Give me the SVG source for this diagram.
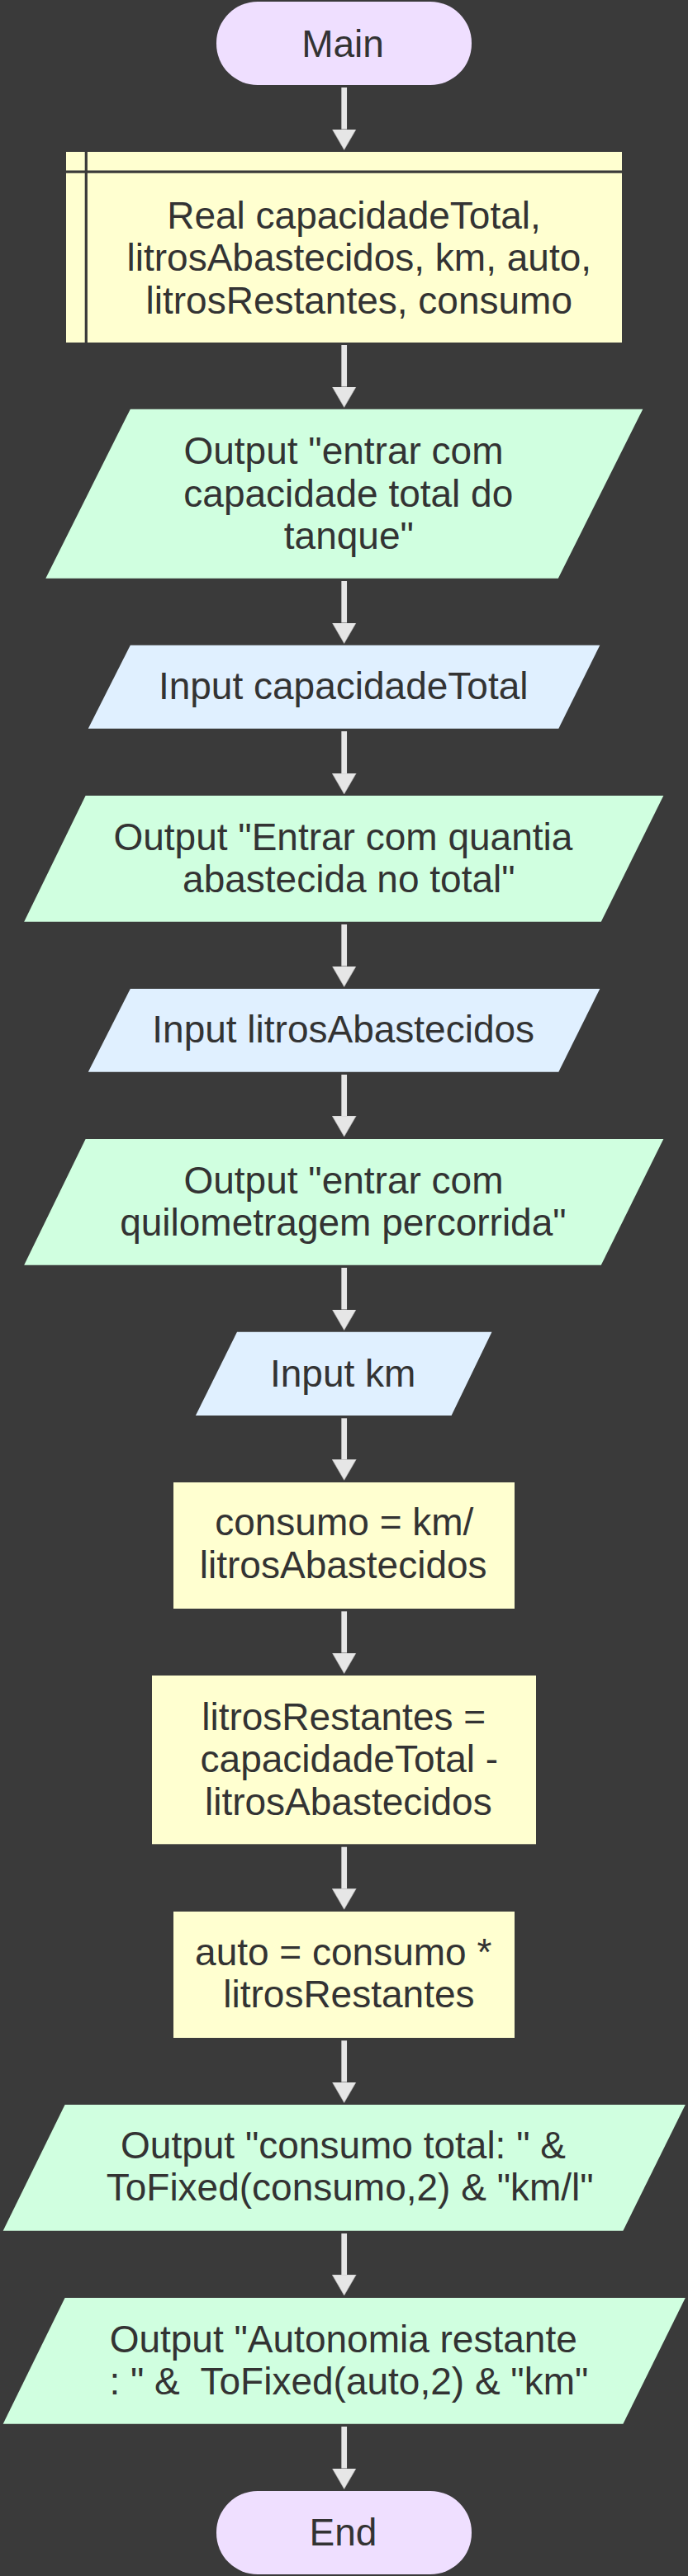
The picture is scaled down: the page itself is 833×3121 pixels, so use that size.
<svg xmlns="http://www.w3.org/2000/svg" width="833" height="3121" viewBox="0 0 833 3121">
<style>
.term{fill:#efdfff}
.proc{fill:#ffffd0}
.out{fill:#d0ffe0}
.in{fill:#e0f0ff}
.sep{stroke:#3a3a3a;stroke-width:3.2;fill:none}
.edge{stroke:#e6e6e6;stroke-width:6.7;fill:none}
text{font-family:"Liberation Sans",Arial,sans-serif;font-size:46px;fill:#333;text-anchor:middle}
</style>
<defs>
<marker id="ah" markerUnits="userSpaceOnUse" markerWidth="26" markerHeight="30" viewBox="0 0 26 30" refX="0" refY="15" orient="auto">
<path d="M0,0.5 L25,15 L0,29.5 z" fill="#e6e6e6" stroke="#bdbdbd" stroke-width="0.6"/>
</marker>
</defs>
<rect width="833" height="3121" fill="#3a3a3a"/>
<g id="connectors">
<line class="edge" x1="416.7" y1="106" x2="416.7" y2="156.5" marker-end="url(#ah)"/>
<line class="edge" x1="416.7" y1="418" x2="416.7" y2="468.5" marker-end="url(#ah)"/>
<line class="edge" x1="416.7" y1="704" x2="416.7" y2="754.5" marker-end="url(#ah)"/>
<line class="edge" x1="416.7" y1="886" x2="416.7" y2="937" marker-end="url(#ah)"/>
<line class="edge" x1="416.7" y1="1120" x2="416.7" y2="1170.5" marker-end="url(#ah)"/>
<line class="edge" x1="416.7" y1="1302" x2="416.7" y2="1352" marker-end="url(#ah)"/>
<line class="edge" x1="416.7" y1="1536" x2="416.7" y2="1586.5" marker-end="url(#ah)"/>
<line class="edge" x1="416.7" y1="1718.3" x2="416.7" y2="1768.3" marker-end="url(#ah)"/>
<line class="edge" x1="416.7" y1="1952.3" x2="416.7" y2="2002.5" marker-end="url(#ah)"/>
<line class="edge" x1="416.7" y1="2237.7" x2="416.7" y2="2288.3" marker-end="url(#ah)"/>
<line class="edge" x1="416.7" y1="2472.3" x2="416.7" y2="2522.5" marker-end="url(#ah)"/>
<line class="edge" x1="416.7" y1="2706" x2="416.7" y2="2756" marker-end="url(#ah)"/>
<line class="edge" x1="416.7" y1="2940" x2="416.7" y2="2990.5" marker-end="url(#ah)"/>
</g>
<g id="main">
<rect class="term" x="262" y="2" width="309" height="101" rx="50" ry="50"/>
<text x="415" y="68.5">Main</text>
</g>
<g id="declare">
<rect class="proc" x="80" y="184" width="673" height="231"/>
<line class="sep" x1="80" y1="208.2" x2="753" y2="208.2"/>
<line class="sep" x1="104.3" y1="184" x2="104.3" y2="415"/>
<text x="428.5" y="276.5">Real capacidadeTotal,</text>
<text x="434.8" y="328">litrosAbastecidos, km, auto,</text>
<text x="434.8" y="379.5">litrosRestantes, consumo</text>
</g>
<g id="output1">
<polygon class="out" points="157.8,495.7 778.3,495.7 675.8,700.7 55.3,700.7"/>
<text x="416" y="562">Output "entrar com</text>
<text x="421.8" y="613.5">capacidade total do</text>
<text x="422.3" y="665">tanque"</text>
</g>
<g id="input1">
<polygon class="in" points="157.8,781.7 726.3,781.7 676.3,882.7 106.8,882.7"/>
<text x="415.7" y="847">Input capacidadeTotal</text>
</g>
<g id="output2">
<polygon class="out" points="103.6,964 803.3,964 727.8,1116.7 29.2,1116.7"/>
<text x="415.4" y="1029.5">Output "Entrar com quantia</text>
<text x="422.3" y="1081">abastecida no total"</text>
</g>
<g id="input2">
<polygon class="in" points="157.8,1198 726.3,1198 676.3,1298.7 106.8,1298.7"/>
<text x="415.7" y="1263">Input litrosAbastecidos</text>
</g>
<g id="output3">
<polygon class="out" points="103.6,1380 803.3,1380 727.8,1532.7 29.2,1532.7"/>
<text x="416" y="1445.5">Output "entrar com</text>
<text x="415.4" y="1497">quilometragem percorrida"</text>
</g>
<g id="input3">
<polygon class="in" points="287,1613.7 595.5,1613.7 546.6,1715 236.9,1715"/>
<text x="415.2" y="1679.5">Input km</text>
</g>
<g id="assign1">
<rect class="proc" x="210" y="1796" width="413" height="153"/>
<text x="416.8" y="1860">consumo = km/</text>
<text x="415.7" y="1911.5">litrosAbastecidos</text>
</g>
<g id="assign2">
<rect class="proc" x="184" y="2030" width="465" height="204.3"/>
<text x="416.2" y="2095.5">litrosRestantes =</text>
<text x="422.9" y="2147">capacidadeTotal -</text>
<text x="421.8" y="2198.5">litrosAbastecidos</text>
</g>
<g id="assign3">
<rect class="proc" x="210" y="2316" width="413" height="153"/>
<text x="415.7" y="2380.5">auto = consumo *</text>
<text x="422.4" y="2432">litrosRestantes</text>
</g>
<g id="output4">
<polygon class="out" points="78.6,2550 829.8,2550 754.4,2702.7 3.7,2702.7"/>
<text x="415.5" y="2614.5">Output "consumo total: " &amp;</text>
<text x="423.7" y="2666">ToFixed(consumo,2) &amp; "km/l"</text>
</g>
<g id="output5">
<polygon class="out" points="78.6,2784 829.8,2784 754.4,2936.7 3.7,2936.7"/>
<text x="415.7" y="2849.5">Output "Autonomia restante</text>
<text x="422.4" y="2901" xml:space="preserve">: " &amp;  ToFixed(auto,2) &amp; "km"</text>
</g>
<g id="end">
<rect class="term" x="262" y="3018" width="309" height="101" rx="50" ry="50"/>
<text x="415.5" y="3084">End</text>
</g>
</svg>
